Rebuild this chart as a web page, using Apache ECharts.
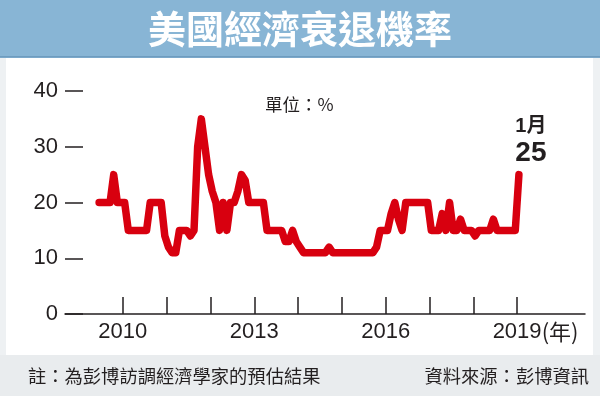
<!DOCTYPE html>
<html>
<head>
<meta charset="utf-8">
<script src="https://cdn.jsdelivr.net/npm/echarts@6/dist/echarts.min.js"></script>
<style>
html,body{margin:0;padding:0;background:#eef1f3;}
#chart{width:600px;height:396px;}
</style>
</head>
<body>
<div id="chart"></div>
<script>
// ---- data ----
const titleText = '美國經濟衰退機率';
const unitText = '單位：%';
const noteText = '註：為彭博訪調經濟學家的預估結果';
const sourceText = '資料來源：彭博資訊';
const startYear = 2009;
const startMonth = 6; // first observation: June 2009, monthly
const values = [
  20,20,20,20,25,20,20,20,15,15,15,15,15,15,20,20,20,20,14,12,
  11,11,15,15,15,14,15,30,35,30,25,22,20,15,20,15,20,20,22,25,
  24,20,20,20,20,20,15,15,15,15,15,13,13,15,13,12,11,11,11,11,
  11,11,11,12,11,11,11,11,11,11,11,11,11,11,11,11,12,15,15,15,
  18,20,17,15,20,20,20,20,20,20,20,15,15,15,18,15,20,15,15,17,
  15,15,15,14,15,15,15,15,17,15,15,15,15,15,15,25
];
const xTickYears = [2010,2011,2012,2013,2014,2015,2016,2017,2018,2019];
const xLabelYears = [2010,2013,2016,2019];
const yTicks = [0,10,20,30,40];
const lastYearSuffix = '(年)';

// ---- build ----
const xs = values.map((_, i) => startYear + (startMonth - 1 + i + 0.5) / 12);
const seriesData = values.map((v, i) => [xs[i], v]);
const lastIdx = values.length - 1;
const lastMonthNum = ((startMonth - 1 + lastIdx) % 12) + 1;

const numFont = 'Liberation Sans, Arial, Noto Sans CJK TC, sans-serif';
const cjkFont = 'Noto Sans CJK TC, sans-serif';
const ink = '#231f20';

const chart = echarts.init(document.getElementById('chart'), null, {renderer: 'canvas'});
chart.setOption({
  backgroundColor: '#eef1f3',
  animation: false,
  graphic: [
    {type: 'rect', z: 0, shape: {x: 6, y: 58, width: 587, height: 297}, style: {fill: '#ffffff'}},
    {type: 'rect', z: 0, shape: {x: 0, y: 0, width: 600, height: 58}, style: {fill: '#88b5d5'}},
    {type: 'rect', z: 0, shape: {x: 0, y: 56, width: 600, height: 1.5}, style: {fill: '#6e9cbf'}},
    {type: 'rect', z: 0, shape: {x: 0, y: 355, width: 600, height: 41}, style: {fill: '#e9ecee'}},
    {type: 'text', z: 1, left: 265, top: 96, style: {text: unitText, fill: ink, font: '17.5px ' + cjkFont}},
    {type: 'text', z: 1, left: 28, top: 367, style: {text: noteText, fill: ink, font: '18.3px ' + cjkFont}},
    {type: 'text', z: 1, right: 11, top: 367, style: {text: sourceText, fill: ink, font: '18.3px ' + cjkFont}}
  ],
  title: {
    text: titleText,
    left: 'center',
    top: 5,
    textStyle: {color: '#ffffff', fontSize: 38, fontWeight: 'bold', fontFamily: cjkFont}
  },
  grid: {left: 65, right: 15, top: 91, bottom: 82, containLabel: false},
  xAxis: {
    type: 'value',
    min: 2008.68,
    max: 2020.55,
    axisLine: {show: true, lineStyle: {color: ink, width: 1.5}},
    axisTick: {show: true, inside: true, length: 17, customValues: xTickYears, lineStyle: {color: ink, width: 1.5}},
    splitLine: {show: false},
    axisLabel: {
      customValues: xLabelYears,
      margin: 7,
      color: ink,
      fontSize: 22,
      fontFamily: numFont,
      formatter: function (v) {
        if (v === xLabelYears[xLabelYears.length - 1]) {
          return '{pad| }' + v + '{suf|' + lastYearSuffix + '}';
        }
        return String(v);
      },
      rich: {
        pad: {width: 37, fontSize: 22},
        suf: {fontSize: 22, color: ink, fontFamily: cjkFont, width: 37}
      }
    }
  },
  yAxis: {
    type: 'value',
    min: 0,
    max: 40,
    interval: 10,
    axisLine: {show: false},
    axisTick: {show: true, inside: true, length: 18, lineStyle: {color: ink, width: 1.5}},
    splitLine: {show: false},
    axisLabel: {margin: 7, color: ink, fontSize: 22, fontFamily: numFont,
      customValues: yTicks}
  },
  series: [{
    type: 'line',
    data: seriesData,
    showSymbol: false,
    smooth: false,
    lineStyle: {color: '#d8000f', width: 7.5, cap: 'round', join: 'round'},
    z: 3,
    markPoint: {
      symbol: 'circle',
      symbolSize: 0,
      data: [{
        coord: seriesData[lastIdx],
        label: {
          show: true,
          position: 'top',
          distance: 6,
          offset: [12, 0],
          formatter: '{m|' + lastMonthNum + '月}\n{v|' + values[lastIdx] + '}',
          rich: {
            m: {fontSize: 20, fontWeight: 'bold', color: ink, fontFamily: numFont, lineHeight: 24, align: 'center'},
            v: {fontSize: 28, fontWeight: 'bold', color: ink, fontFamily: numFont, lineHeight: 30, align: 'center'}
          }
        }
      }]
    }
  }]
});
</script>
</body>
</html>
